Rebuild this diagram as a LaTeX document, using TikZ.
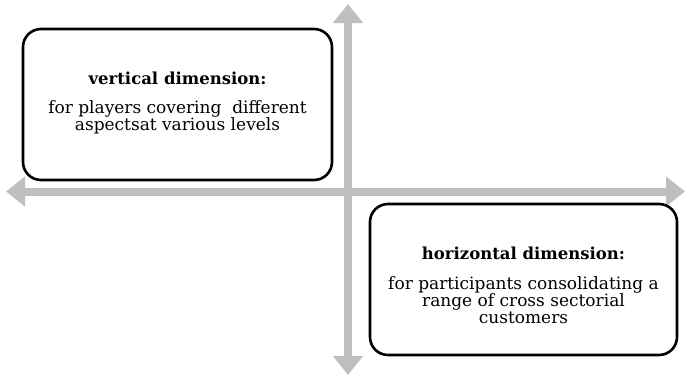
\documentclass[tikz,border=0pt]{standalone}
\usepackage{fontspec}
\setmainfont{DejaVu Serif}
\usetikzlibrary{arrows.meta}
\definecolor{axisgray}{HTML}{BFBFBF}
\tikzset{
  axis/.style={draw=axisgray, line width=8pt, -{Triangle[width=29pt,length=19pt]}},
  dimbox/.style={draw=black, line width=2.6pt, rounded corners=18pt, fill=white},
  ttl/.style={font=\fontsize{16.5}{17}\selectfont\bfseries, align=center},
  body/.style={font=\fontsize{17}{17}\selectfont, align=center},
}
\begin{document}
\begin{tikzpicture}[x=1pt,y=-1pt]
\useasboundingbox (0,0) rectangle (685,378);
\coordinate (vtop) at (348,4);
\coordinate (vbot) at (348,375);
\coordinate (hleft) at (6,191.5);
\coordinate (hright) at (685,191.5);
\coordinate (c) at (348,191.5);
\draw[axis] (c) -- (vtop);
\draw[axis] (c) -- (vbot);
\draw[axis] (c) -- (hleft);
\draw[axis] (c) -- (hright);
\draw[dimbox] (23,29) rectangle (332,180);
\node[ttl] (t1) at (177.5,78) {vertical dimension:};
\node[body] (b1) at (177.5,117) {for players covering\ \ different\\aspectsat various levels};
\draw[dimbox] (370,204) rectangle (677,355);
\node[ttl] (t2) at (523.5,253) {horizontal dimension:};
\node[body] (b2) at (523.5,300) {for participants consolidating a\\range of cross sectorial\\customers};
\end{tikzpicture}
\end{document}
